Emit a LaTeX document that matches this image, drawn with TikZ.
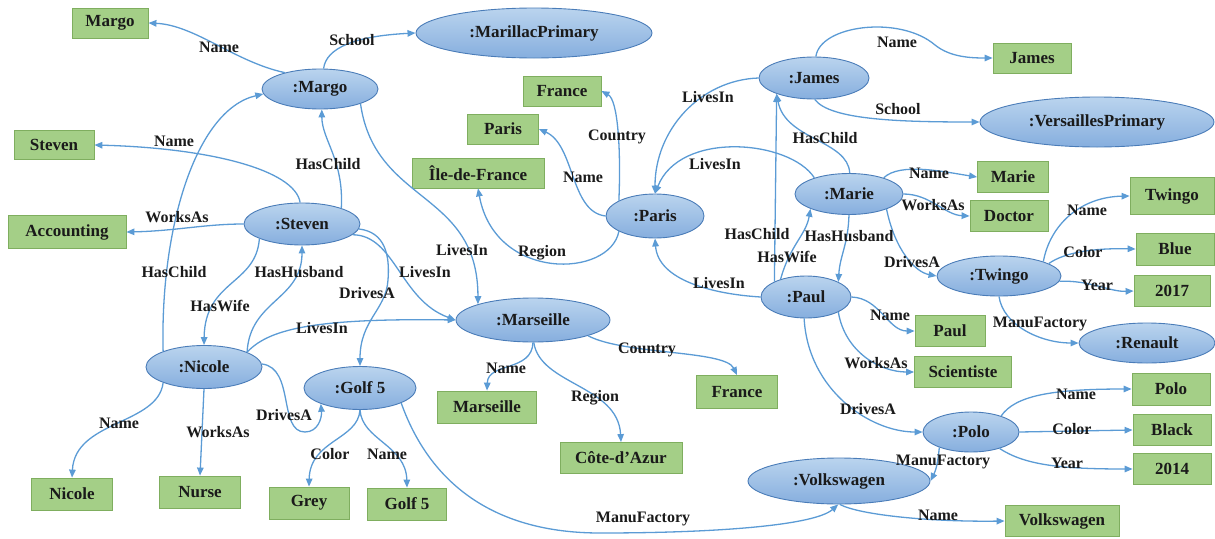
\documentclass[tikz,border=0pt]{standalone}
\usepackage{fontspec}
\setmainfont{Liberation Serif}
\usetikzlibrary{arrows.meta,shapes.geometric}
\definecolor{boxfill}{HTML}{A4CF87}
\definecolor{boxdraw}{HTML}{7FAE5F}
\definecolor{elltop}{HTML}{BAD4EE}
\definecolor{ellbot}{HTML}{86AEDE}
\definecolor{elldraw}{HTML}{4A7CB8}
\definecolor{edgec}{HTML}{5B9BD5}
\definecolor{txt}{HTML}{1A1A1A}
\tikzset{
  box/.style={rectangle, fill=boxfill, draw=boxdraw, line width=0.8pt, inner sep=0pt,
    font=\fontsize{17}{18}\selectfont\bfseries, text=txt},
  ell/.style={ellipse, top color=elltop, bottom color=ellbot, draw=elldraw, line width=0.9pt,
    inner sep=0pt, font=\fontsize{17}{18}\selectfont\bfseries, text=txt},
  ar/.style={-{Triangle[length=8pt,width=6.5pt]}, line width=1.3pt, draw=edgec},
  lbl/.style={inner sep=0pt, font=\fontsize{16}{17}\selectfont\bfseries, text=txt}
}
\begin{document}
\begin{tikzpicture}[x=1pt,y=-1pt]
\useasboundingbox (0,0) rectangle (1215,538);
% ellipses
\node[ell, minimum width=236pt, minimum height=50pt] (eMarillac) at (534,33) {:MarillacPrimary};
\node[ell, minimum width=116pt, minimum height=40pt] (eMargo) at (320,89) {:Margo};
\node[ell, minimum width=116pt, minimum height=42pt] (eSteven) at (302,224) {:Steven};
\node[ell, minimum width=116pt, minimum height=43pt] (eNicole) at (204,367) {:Nicole};
\node[ell, minimum width=112pt, minimum height=43pt] (eGolf) at (360,388) {:Golf 5};
\node[ell, minimum width=154pt, minimum height=44pt] (eMars) at (533,320) {:Marseille};
\node[ell, minimum width=98pt, minimum height=44pt] (ePar) at (655,216) {:Paris};
\node[ell, minimum width=110pt, minimum height=42pt] (eJames) at (814,78) {:James};
\node[ell, minimum width=234pt, minimum height=50pt] (eVers) at (1097,122) {:VersaillesPrimary};
\node[ell, minimum width=108pt, minimum height=41pt] (eMarie) at (849,194) {:Marie};
\node[ell, minimum width=124pt, minimum height=40pt] (eTwingo) at (999,276) {:Twingo};
\node[ell, minimum width=90pt, minimum height=42pt] (ePaul) at (806,297) {:Paul};
\node[ell, minimum width=136pt, minimum height=40pt] (eRenault) at (1147,343) {:Renault};
\node[ell, minimum width=96pt, minimum height=40pt] (ePolo) at (971,432) {:Polo};
\node[ell, minimum width=182pt, minimum height=46pt] (eVW) at (839,481) {:Volkswagen};
% boxes
\node[box, minimum width=76pt, minimum height=30pt] (bMargo) at (110,23) {Margo};
\node[box, minimum width=80pt, minimum height=29pt] (bSteven) at (54,145) {Steven};
\node[box, minimum width=118pt, minimum height=33pt] (bAcc) at (67,232) {Accounting};
\node[box, minimum width=78pt, minimum height=30pt] (bFr1) at (562,91) {France};
\node[box, minimum width=71pt, minimum height=30pt] (bParis) at (503,129) {Paris};
\node[box, minimum width=132pt, minimum height=30pt] (bIle) at (478,173) {Île-de-France};
\node[box, minimum width=78pt, minimum height=30pt] (bJames) at (1032,58) {James};
\node[box, minimum width=71pt, minimum height=31pt] (bMarie) at (1013,177) {Marie};
\node[box, minimum width=78pt, minimum height=31pt] (bDoctor) at (1009,216) {Doctor};
\node[box, minimum width=84pt, minimum height=37pt] (bTwingo) at (1172,196) {Twingo};
\node[box, minimum width=78pt, minimum height=32pt] (bBlue) at (1175,249) {Blue};
\node[box, minimum width=76pt, minimum height=31pt] (b2017) at (1172,291) {2017};
\node[box, minimum width=70pt, minimum height=31pt] (bPaul) at (950,331) {Paul};
\node[box, minimum width=97pt, minimum height=31pt] (bSci) at (963,372) {Scientiste};
\node[box, minimum width=78pt, minimum height=32pt] (bPolo) at (1171,389) {Polo};
\node[box, minimum width=78pt, minimum height=31pt] (bBlack) at (1172,430) {Black};
\node[box, minimum width=78pt, minimum height=31pt] (b2014) at (1172,469) {2014};
\node[box, minimum width=114pt, minimum height=31pt] (bVW) at (1062,521) {Volkswagen};
\node[box, minimum width=99pt, minimum height=32pt] (bMars) at (487,407) {Marseille};
\node[box, minimum width=122pt, minimum height=31pt] (bCote) at (621,458) {Côte-d’Azur};
\node[box, minimum width=81pt, minimum height=33pt] (bFr2) at (737,392) {France};
\node[box, minimum width=81pt, minimum height=32pt] (bNicole) at (72,494) {Nicole};
\node[box, minimum width=81pt, minimum height=32pt] (bNurse) at (200,492) {Nurse};
\node[box, minimum width=80pt, minimum height=32pt] (bGrey) at (309,503) {Grey};
\node[box, minimum width=79pt, minimum height=32pt] (bGolf) at (407,504) {Golf 5};
% edges
\draw[ar] (eMargo.155) .. controls (235,62) and (195,25) .. (bMargo.east);
\draw[ar] (eMargo.80) .. controls (326,48) and (355,36) .. (eMarillac.west);
\draw[ar] (eMargo.-20) .. controls (375,205) and (478,190) .. (eMars.164);
\draw[ar] (eSteven.22) .. controls (344,160) and (322,140) .. (eMargo.-85);
\draw[ar] (eSteven.95) .. controls (295,170) and (210,148) .. (bSteven.east);
\draw[ar] (eSteven.180) .. controls (205,224) and (175,231) .. (bAcc.east);
\draw[ar] (eNicole.159) .. controls (160,230) and (195,110) .. (eMargo.185);
\draw[ar] (eSteven.199) .. controls (256,285) and (205,280) .. (eNicole.north);
\draw[ar] (eNicole.19) .. controls (250,300) and (302,300) .. (eSteven.south);
\draw[ar] (eSteven.-5) .. controls (385,232) and (390,255) .. (388,280) .. controls (386,310) and (360,320) .. (eGolf.north);
\draw[ar] (eSteven.-12) .. controls (395,235) and (400,300) .. (eMars.west);
\draw[ar] (eNicole.19) .. controls (268,330) and (310,318) .. (eMars.west);
\draw[ar] (eNicole.3) .. controls (295,368) and (278,432) .. (305,432) .. controls (318,432) and (322,418) .. (eGolf.202);
\draw[ar] (eNicole.201) .. controls (158,425) and (75,420) .. (bNicole.north);
\draw[ar] (eNicole.-90) -- (bNurse.north);
\draw[ar] (eGolf.-90) .. controls (358,440) and (310,440) .. (bGrey.north);
\draw[ar] (eGolf.-90) .. controls (362,440) and (406,445) .. (bGolf.north);
\draw[ar] (eGolf.-20) .. controls (425,470) and (480,533) .. (600,533) .. controls (720,533) and (815,525) .. (eVW.-92);
\draw[ar] (eMars.-90) .. controls (532,372) and (488,362) .. (bMars.north);
\draw[ar] (eMars.-88) .. controls (540,385) and (618,385) .. (bCote.north);
\draw[ar] (eMars.-16) .. controls (625,355) and (725,350) .. (bFr2.north);
\draw[ar] (ePar.157) .. controls (621,150) and (618,100) .. (bFr1.east);
\draw[ar] (ePar.180) .. controls (570,212) and (575,145) .. (bParis.east);
\draw[ar] (ePar.203) .. controls (610,278) and (495,282) .. (bIle.south);
\draw[ar] (eJames.180) .. controls (700,80) and (655,130) .. (ePar.north);
\draw[ar] (eMarie.155) .. controls (790,140) and (680,130) .. (ePar.north);
\draw[ar] (ePaul.180) .. controls (712,294) and (658,280) .. (ePar.south);
\draw[ar] (ePaul.154) -- (eJames.203);
\draw[ar] (eMarie.88) .. controls (848,140) and (785,140) .. (eJames.203);
\draw[ar] (ePaul.145) .. controls (790,245) and (806,235) .. (eMarie.201);
\draw[ar] (eMarie.-90) .. controls (848,245) and (840,255) .. (ePaul.25);
\draw[ar] (eJames.85) .. controls (820,25) and (900,15) .. (935,45) .. controls (950,57) and (970,58) .. (bJames.west);
\draw[ar] (eJames.-88) .. controls (830,120) and (900,122) .. (eVers.west);
\draw[ar] (eMarie.25) .. controls (900,162) and (945,172) .. (bMarie.west);
\draw[ar] (eMarie.0) .. controls (930,194) and (945,215) .. (bDoctor.west);
\draw[ar] (eMarie.-22) .. controls (895,250) and (915,272) .. (eTwingo.west);
\draw[ar] (eTwingo.18) .. controls (1050,225) and (1080,197) .. (bTwingo.west);
\draw[ar] (eTwingo.14) .. controls (1065,252) and (1095,248) .. (bBlue.west);
\draw[ar] (eTwingo.-5) .. controls (1090,280) and (1110,292) .. (b2017.west);
\draw[ar] (eTwingo.-90) .. controls (1003,325) and (1040,343) .. (eRenault.west);
\draw[ar] (ePaul.0) .. controls (880,298) and (888,331) .. (bPaul.west);
\draw[ar] (ePaul.-25) .. controls (845,352) and (880,372) .. (bSci.west);
\draw[ar] (ePaul.-95) .. controls (808,390) and (870,432) .. (ePolo.west);
\draw[ar] (ePolo.28) .. controls (1015,396) and (1050,389) .. (bPolo.west);
\draw[ar] (ePolo.0) -- (bBlack.west);
\draw[ar] (ePolo.-30) .. controls (1025,465) and (1060,469) .. (b2014.west);
\draw[ar] (ePolo.206) .. controls (938,462) and (936,470) .. (eVW.east);
\draw[ar] (eVW.-88) .. controls (860,515) and (930,522) .. (bVW.west);
% labels
\node[lbl] (l1) at (219,47) {Name};
\node[lbl] (l2) at (352,40) {School};
\node[lbl] (l3) at (462,250) {LivesIn};
\node[lbl] (l4) at (328,164) {HasChild};
\node[lbl] (l5) at (174,141) {Name};
\node[lbl] (l6) at (177,217) {WorksAs};
\node[lbl] (l7) at (174,272) {HasChild};
\node[lbl] (l8) at (220,306) {HasWife};
\node[lbl] (l9) at (299,272) {HasHusband};
\node[lbl] (l10) at (367,293) {DrivesA};
\node[lbl] (l11) at (425,272) {LivesIn};
\node[lbl] (l12) at (322,328) {LivesIn};
\node[lbl] (l13) at (284,415) {DrivesA};
\node[lbl] (l14) at (119,423) {Name};
\node[lbl] (l15) at (218,432) {WorksAs};
\node[lbl] (l16) at (330,454) {Color};
\node[lbl] (l17) at (387,454) {Name};
\node[lbl] (l18) at (643,519) {ManuFactory};
\node[lbl] (l19) at (506,368) {Name};
\node[lbl] (l20) at (595,398) {Region};
\node[lbl] (l21) at (647,350) {Country};
\node[lbl] (l22) at (617,137) {Country};
\node[lbl] (l23) at (583,177) {Name};
\node[lbl] (l24) at (542,253) {Region};
\node[lbl] (l25) at (708,97) {LivesIn};
\node[lbl] (l26) at (715,164) {LivesIn};
\node[lbl] (l27) at (719,283) {LivesIn};
\node[lbl] (l28) at (757,234) {HasChild};
\node[lbl] (l29) at (825,138) {HasChild};
\node[lbl] (l30) at (787,257) {HasWife};
\node[lbl] (l31) at (849,236) {HasHusband};
\node[lbl] (l32) at (897,42) {Name};
\node[lbl] (l33) at (898,109) {School};
\node[lbl] (l34) at (929,173) {Name};
\node[lbl] (l35) at (933,205) {WorksAs};
\node[lbl] (l36) at (912,262) {DrivesA};
\node[lbl] (l37) at (1087,210) {Name};
\node[lbl] (l38) at (1083,252) {Color};
\node[lbl] (l39) at (1097,285) {Year};
\node[lbl] (l40) at (1040,324) {ManuFactory};
\node[lbl] (l41) at (890,315) {Name};
\node[lbl] (l42) at (876,363) {WorksAs};
\node[lbl] (l43) at (868,409) {DrivesA};
\node[lbl] (l44) at (1076,394) {Name};
\node[lbl] (l45) at (1072,429) {Color};
\node[lbl] (l46) at (1067,463) {Year};
\node[lbl] (l47) at (943,462) {ManuFactory};
\node[lbl] (l48) at (938,515) {Name};
\end{tikzpicture}
\end{document}
